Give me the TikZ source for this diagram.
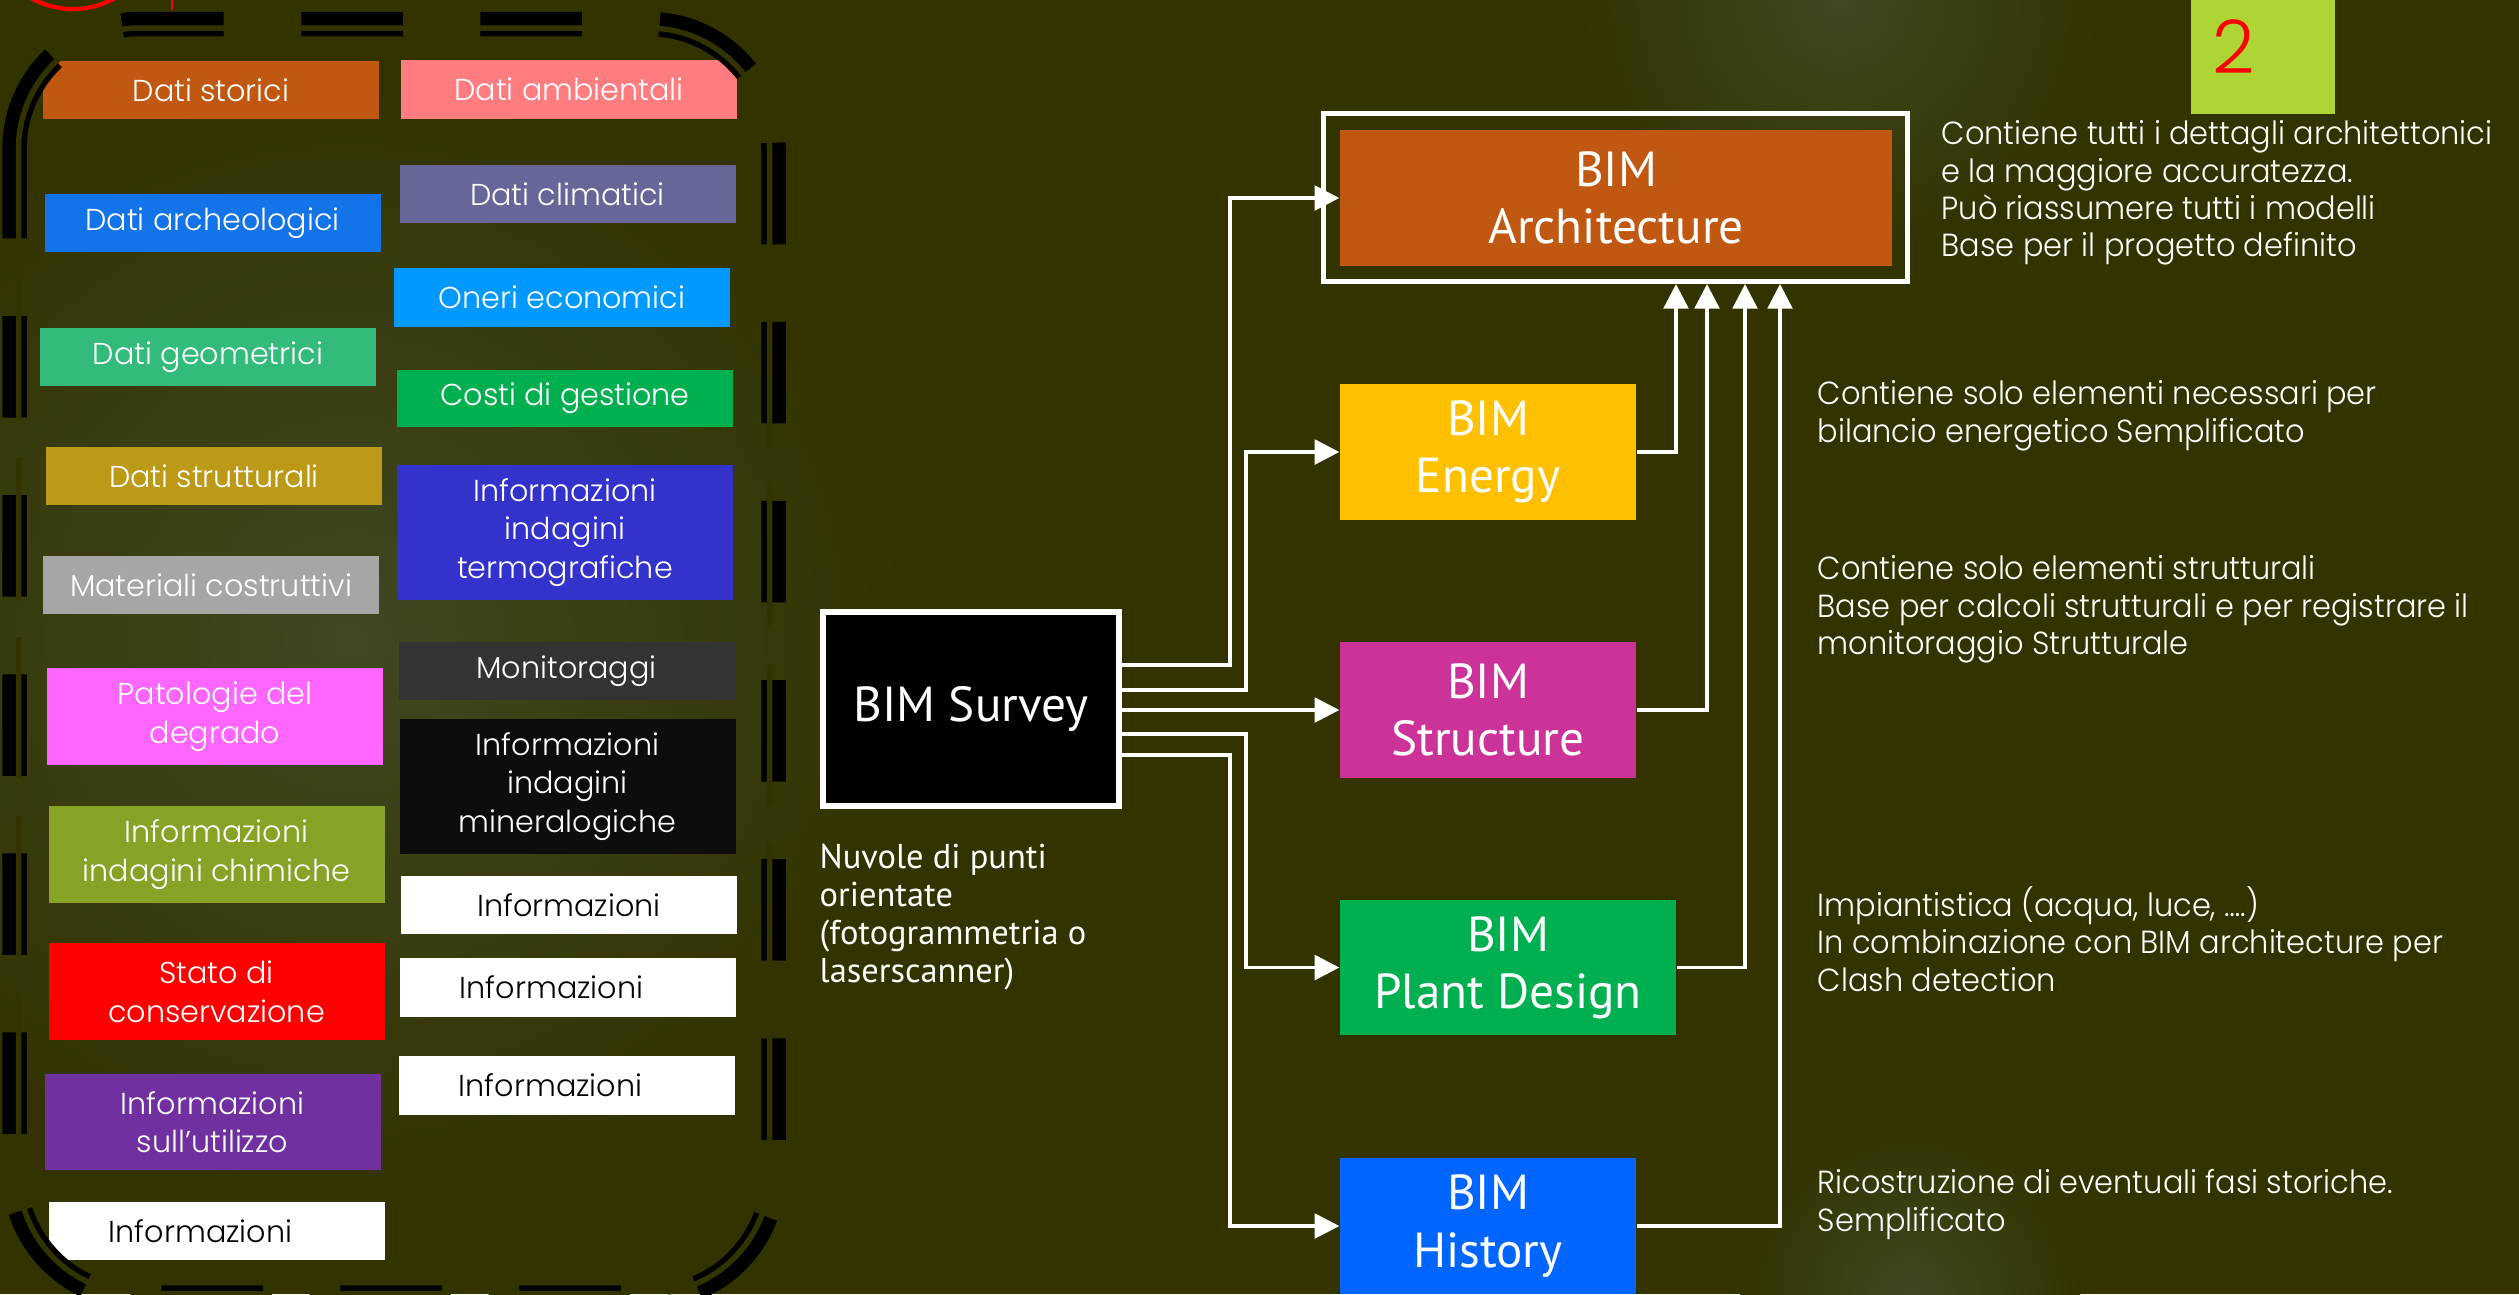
\documentclass[tikz,border=0pt]{standalone}
\usepackage{fontspec}
\setmainfont{Poppins}[UprightFont=* Light]
\newfontfamily\notefont{Poppins}[UprightFont=* Light, FakeStretch=0.95]
\newfontfamily\bimfont{PT Sans}
\usetikzlibrary{arrows.meta,calc}

\definecolor{bg}{RGB}{51,51,0}
\definecolor{glow}{RGB}{64,72,34}
\definecolor{cStorici}{RGB}{193,88,17}
\definecolor{cArcheo}{RGB}{18,116,232}
\definecolor{cGeom}{RGB}{51,187,123}
\definecolor{cStrutt}{RGB}{188,154,24}
\definecolor{cMater}{RGB}{166,166,166}
\definecolor{cPatol}{RGB}{255,102,255}
\definecolor{cChim}{RGB}{134,163,37}
\definecolor{cUtil}{RGB}{112,48,160}
\definecolor{cAmb}{RGB}{255,124,128}
\definecolor{cClima}{RGB}{102,102,153}
\definecolor{cOneri}{RGB}{0,153,255}
\definecolor{cCosti}{RGB}{0,176,80}
\definecolor{cTermo}{RGB}{51,51,204}
\definecolor{cMonit}{RGB}{51,51,51}
\definecolor{cMiner}{RGB}{13,13,13}
\definecolor{cEnergy}{RGB}{255,192,0}
\definecolor{cStruct}{RGB}{204,51,153}
\definecolor{cPlant}{RGB}{0,176,80}
\definecolor{cHistory}{RGB}{0,102,255}
\definecolor{cSlide}{RGB}{173,213,54}

\tikzset{
  tag/.style={rectangle, inner sep=0pt, minimum width=33.6mm, align=center,
    font=\fontsize{8.6pt}{11pt}\selectfont},
  bim/.style={rectangle, inner sep=0pt, text=white, align=center,
    font=\bimfont\fontsize{14pt}{16.3pt}\selectfont},
  note/.style={anchor=north west, inner sep=0pt, align=left, text=white,
    font=\notefont\fontsize{9.1pt}{10.6pt}\selectfont},
  conn/.style={white, line width=1pt, -{Triangle[length=7pt,width=7pt]}},
}

\begin{document}
\begin{tikzpicture}[x=0.1mm,y=-0.1mm]
  \useasboundingbox[fill=bg] (0,0) rectangle (2519,1294);
  % soft light spots
  \shade[inner color=glow, outer color=bg] (350,640) circle (560);
  \shade[inner color=glow, outer color=bg] (1840,0) circle (260);
  \shade[inner color=glow, outer color=bg] (1910,1294) circle (170);

  % left panel, first column
  \foreach \x/\y/\h/\c/\t/\s [count=\i] in {
      211/90/5.8/cStorici/white/{Dati storici},
      212.5/223/5.8/cArcheo/white/{Dati archeologici},
      208/357/5.8/cGeom/white/{Dati geometrici},
      214/476/5.8/cStrutt/white/{Dati strutturali},
      211/585/5.8/cMater/white/{Materiali costruttivi},
      215/716.5/9.7/cPatol/white/{Patologie del\\degrado},
      216.5/854.5/9.7/cChim/white/{Informazioni\\indagini chimiche},
      216.5/991.5/9.7/red/white/{Stato di\\conservazione},
      212.5/1122/9.6/cUtil/white/{Informazioni\\sull’utilizzo},
      216.5/1231/5.8/white/black/{Informazioni\hspace{3.2mm}}}
    \node[tag, fill=\c, text=\t, minimum height=\h mm] (left\i) at (\x,\y) {\s};
  % second column
  \foreach \x/\y/\h/\c/\t/\s [count=\i] in {
      569/89.5/5.9/cAmb/white/{Dati ambientali},
      567.5/194/5.8/cClima/white/{Dati climatici},
      562/297.5/5.9/cOneri/white/{Oneri economici},
      565/398.5/5.7/cCosti/white/{Costi di gestione},
      565/532.5/13.5/cTermo/white/{Informazioni\\indagini\\termografiche},
      566.5/671/5.8/cMonit/white/{Monitoraggi},
      567.5/786.5/13.5/cMiner/white/{Informazioni\\indagini\\mineralogiche},
      569/905/5.8/white/black/{Informazioni},
      567.5/987.5/5.9/white/black/{Informazioni\hspace{3.2mm}},
      566.5/1085.5/5.9/white/black/{Informazioni\hspace{3.2mm}}}
    \node[tag, fill=\c, text=\t, minimum height=\h mm] (right\i) at (\x,\y) {\s};

  % dashed thick-thin frame
  \draw[black, line width=2.45mm, dash pattern=on 10.15mm off 7.76mm]
    (14.5,149) arc[start angle=180, end angle=270, radius=125] -- (648.5,24)
    arc[start angle=270, end angle=360, radius=125] -- (773.5,1172.5)
    arc[start angle=0, end angle=90, radius=125] -- (139.5,1297.5)
    arc[start angle=90, end angle=180, radius=125] -- cycle;
  \draw[bg, line width=0.55mm, dash pattern=on 14.15mm off 3.76mm, dash phase=2.8mm]
    (18.5,149) arc[start angle=180, end angle=270, radius=121] -- (648.5,28)
    arc[start angle=270, end angle=360, radius=121] -- (769.5,1172.5)
    arc[start angle=0, end angle=90, radius=121] -- (139.5,1293.5)
    arc[start angle=90, end angle=180, radius=121] -- cycle;
  \draw[red, line width=1.2pt] (73,-77) circle (86);
  \draw[red, line width=0.3pt] (172,0) -- (172,10);

  % BIM models
  \node[draw=white, line width=0.5mm, minimum width=58.4mm, minimum height=16.8mm,
    inner sep=0pt] (archframe) at (1615.5,197.5) {};
  \node[bim, fill=cStorici, minimum width=55.2mm, minimum height=13.6mm] (arch) at (1616,198) {BIM\\Architecture};
  \node[bim, fill=cEnergy, minimum width=29.6mm, minimum height=13.6mm] (energy) at (1488,452) {BIM\\Energy};
  \node[bim, fill=cStruct, minimum width=29.6mm, minimum height=13.6mm] (structure) at (1488,710) {BIM\\Structure};
  \node[bim, fill=cPlant, minimum width=33.6mm, minimum height=13.5mm] (plant) at (1508,967.5) {BIM\\Plant Design};
  \node[bim, fill=cHistory, minimum width=29.6mm, minimum height=13.6mm] (history) at (1488,1226) {BIM\\History};
  \node[bim, fill=black, draw=white, line width=0.6mm, minimum width=29.6mm,
    minimum height=19.4mm] (survey) at (971,709) {BIM Survey};

  % survey to models
  \draw[conn] ($(survey.east)+(0,-44)$) -- ++(108,0) |- (arch.west);
  \draw[conn] ($(survey.east)+(0,-19)$) -- ++(124,0) |- (energy.west);
  \draw[conn] (survey.east |- structure.west) -- (structure.west);
  \draw[conn] ($(survey.east)+(0,25)$) -- ++(124,0) |- (plant.west);
  \draw[conn] ($(survey.east)+(0,46)$) -- ++(108,0) |- (history.west);
  % models back to architecture
  \draw[conn] (energy.east) -| ($(archframe.south)+(60.5,0)$);
  \draw[conn] (structure.east) -| ($(archframe.south)+(91.5,0)$);
  \draw[conn] (plant.east) -| ($(archframe.south)+(129.5,0)$);
  \draw[conn] (history.east) -| ($(archframe.south)+(164.5,0)$);

  % notes
  \node[note, font=\bimfont\fontsize{9.8pt}{10.8pt}\selectfont] (noteSurvey) at (819,843)
    {Nuvole di punti\\orientate\\(fotogrammetria o\\laserscanner)};
  \node[note] (noteArch) at (1941,120) {Contiene tutti i dettagli architettonici\\e la maggiore accuratezza.\\Può riassumere tutti i modelli\\Base per il progetto definito};
  \node[note] (noteEnergy) at (1817,380) {Contiene solo elementi necessari per\\bilancio energetico Semplificato};
  \node[note] (noteStructure) at (1817,555) {Contiene solo elementi strutturali\\Base per calcoli strutturali e per registrare il\\monitoraggio Strutturale};
  \node[note] (notePlant) at (1817,886) {Impiantistica (acqua, luce, ….)\\In combinazione con BIM architecture per\\Clash detection};
  \node[note] (noteHistory) at (1817,1169) {Ricostruzione di eventuali fasi storiche.\\Semplificato};

  % slide number
  \node[fill=cSlide, minimum width=14.4mm, minimum height=11.4mm, inner sep=0pt] (slide) at (2263,57) {};
  \node[text=red, font=\fontsize{21pt}{21pt}\selectfont] (num) at (2234,47) {2};
\end{tikzpicture}
\end{document}
